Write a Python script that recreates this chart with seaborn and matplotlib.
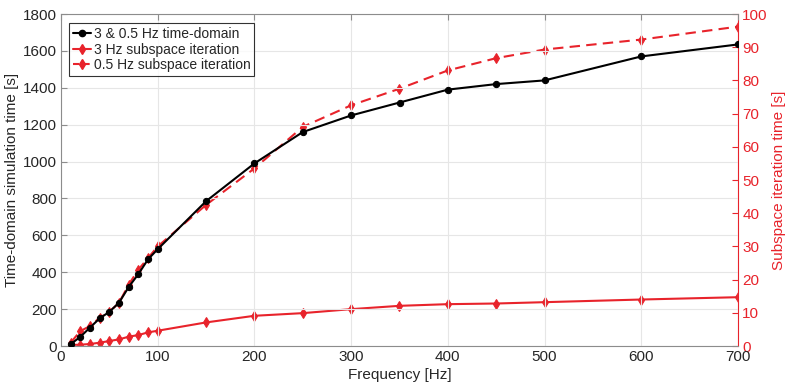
import numpy as np
import pandas as pd
import matplotlib
matplotlib.use("Agg")
import matplotlib.pyplot as plt
import seaborn as sns
from matplotlib.lines import Line2D

freq = [10, 20, 30, 40, 50, 60, 70, 80, 90, 100, 150, 200, 250, 300, 350, 400, 450, 500, 600, 700]
time_domain = [10, 50, 100, 150, 185, 235, 320, 390, 470, 525, 785, 990, 1160, 1250, 1320, 1390, 1420, 1440, 1570, 1635]
sub_3hz = [0.3, 0.4, 0.6, 1.0, 1.5, 2.0, 2.8, 3.3, 4.1, 4.6, 7.1, 9.1, 9.9, 11.1, 12.1, 12.6, 12.8, 13.2, 14.0, 14.7]
sub_05hz = [1.0, 4.5, 6.0, 8.5, 10.3, 13.0, 18.5, 23.0, 26.5, 30.0, 42.5, 53.5, 66.0, 72.5, 77.5, 83.0, 86.7, 89.3, 92.3, 96.2]

labels = ["3 & 0.5 Hz time-domain", "3 Hz subspace iteration", "0.5 Hz subspace iteration"]

sns.set_theme(style="white")
plt.rcParams['font.family'] = ['Liberation Sans', 'DejaVu Sans']

RED = "#E8232B"
GRID = "#e6e6e6"
SPINE = "#8c8c8c"

df = pd.DataFrame({"freq": freq, "td": time_domain, "s3": sub_3hz, "s05": sub_05hz})

fig = plt.figure(figsize=(7.85, 3.9), dpi=100)
ax = fig.add_axes([61/785, 1-346/390, (738-61)/785, (346-14)/390])
ax2 = ax.twinx()

MS_O = 4.5
MS_D = 5.0
sns.lineplot(data=df, x="freq", y="td", ax=ax, color="black", marker="o",
             markersize=MS_O, linewidth=1.5, markeredgecolor="black", zorder=3)
sns.lineplot(data=df, x="freq", y="s3", ax=ax2, color=RED, marker="d",
             markersize=MS_D, linewidth=1.5, markeredgecolor=RED, zorder=2)
sns.lineplot(data=df, x="freq", y="s05", ax=ax2, color=RED, marker="d",
             markersize=MS_D, linewidth=1.5, markeredgecolor=RED, linestyle=(0, (5, 3)), zorder=2)

ax.set_zorder(ax2.get_zorder() + 1)
ax.patch.set_visible(False)

ax.set_xlim(0, 700)
ax.set_ylim(0, 1800)
ax2.set_ylim(0, 100)
ax.set_xticks(np.arange(0, 701, 100))
ax.set_yticks(np.arange(0, 1801, 200))
ax2.set_yticks(np.arange(0, 101, 10))

ax.grid(True, color=GRID, linewidth=0.8)
ax2.grid(False)

fs = 11
ax.set_xlabel("Frequency [Hz]", fontsize=fs, color="#262626", labelpad=3)
ax.set_ylabel("Time-domain simulation time [s]", fontsize=fs, color="#262626", labelpad=3)
ax2.set_ylabel("Subspace iteration time [s]", fontsize=fs, color=RED, labelpad=3)

ax.tick_params(axis="both", direction="in", length=4, width=0.8, labelsize=fs,
               colors=SPINE, labelcolor="#262626", top=True, pad=3)
ax.tick_params(axis="y", right=False)
ax2.tick_params(axis="y", direction="in", length=4, width=0.8, labelsize=fs,
                colors=RED, labelcolor=RED, pad=3)

for s in ["left", "bottom", "top"]:
    ax.spines[s].set_color(SPINE)
    ax.spines[s].set_linewidth(0.8)
ax.spines["right"].set_visible(False)
for s in ["left", "bottom", "top"]:
    ax2.spines[s].set_visible(False)
ax2.spines["right"].set_color(RED)
ax2.spines["right"].set_linewidth(0.8)

handles = [
    Line2D([], [], color="black", marker="o", markersize=MS_O, linewidth=1.5),
    Line2D([], [], color=RED, marker="d", markersize=MS_D, linewidth=1.5),
    Line2D([], [], color=RED, marker="d", markersize=MS_D, linewidth=1.5, linestyle=(0, (3, 2))),
]
leg = ax.legend(handles, labels, loc="upper left", bbox_to_anchor=(0.005, 0.985),
                fontsize=10, frameon=True, fancybox=False, handlelength=1.3,
                handletextpad=0.2, borderpad=0.3, labelspacing=0.1, borderaxespad=0.3)
leg.get_frame().set_edgecolor("black")
leg.get_frame().set_linewidth(0.8)
if ax2.get_legend():
    ax2.get_legend().remove()

fig.savefig("out.png", dpi=100)
